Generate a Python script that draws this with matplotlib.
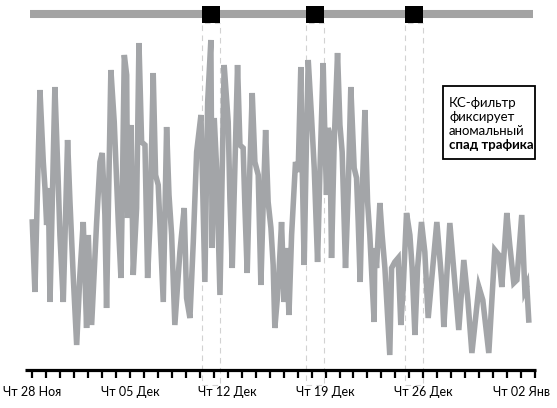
import matplotlib
matplotlib.use("Agg")
import matplotlib.pyplot as plt
from matplotlib.patches import Rectangle

plt.rcParams['font.family'] = ['Lato', 'DejaVu Sans']

# days since Thu 28 Nov 00:00
days = [
    0.00, 0.19, 0.55, 0.79, 0.91, 1.03, 1.15, 1.27, 1.62, 1.86,
    1.98, 2.22, 2.53, 2.70, 2.93, 3.18, 3.41, 3.65, 3.89, 4.01,
    4.25, 4.61, 4.85, 5.01, 5.20, 5.32, 5.63, 5.87, 6.16, 6.35,
    6.44, 6.59, 6.76, 6.83, 7.07, 7.23, 7.47, 7.64, 7.83, 8.07,
    8.26, 8.43, 8.66, 8.83, 9.02, 9.38, 9.62, 9.79, 9.98, 10.21,
    10.57, 10.88, 11.05, 11.29, 11.53, 11.77, 12.08, 12.24, 12.36, 12.56,
    12.79, 12.88, 13.03, 13.20, 13.44, 13.56, 13.74, 14.03, 14.15, 14.32,
    14.51, 14.70, 14.87, 15.10, 15.23, 15.39, 15.58, 15.75, 15.94, 16.18,
    16.37, 16.54, 16.71, 16.89, 17.09, 17.25, 17.37, 17.61, 17.85, 18.04,
    18.21, 18.38, 18.57, 18.85, 19.04, 19.23, 19.33, 19.47, 19.64, 19.76,
    20.00, 20.19, 20.43, 20.59, 20.83, 20.95, 21.07, 21.19, 21.31, 21.43,
    21.62, 21.86, 22.03, 22.19, 22.43, 22.62, 22.81, 23.05, 23.22, 23.34,
    23.48, 23.62, 23.82, 24.01, 24.17, 24.48, 24.53, 24.65, 24.89, 25.05,
    25.25, 25.60, 25.73, 25.96, 26.20, 26.39, 26.56, 26.80, 27.04, 27.20,
    27.40, 27.59, 27.87, 28.11, 28.35, 28.97, 29.33, 29.47, 29.90, 30.26,
    30.54, 30.90, 31.19, 31.48, 31.98, 32.26, 32.69, 33.12, 33.41, 33.62,
    33.98, 34.19, 34.48, 34.70, 35.05, 35.27, 35.41, 35.55]

traffic = [
    148, 78, 280, 208, 182, 145, 182, 68, 283, 188,
    135, 68, 230, 168, 95, 25, 95, 148, 42, 135,
    45, 148, 208, 217, 155, 62, 300, 248, 148, 92,
    168, 315, 295, 152, 245, 95, 162, 327, 228, 225,
    92, 148, 297, 195, 185, 68, 243, 175, 135, 45,
    118, 162, 72, 52, 128, 218, 255, 162, 88, 268,
    330, 122, 252, 202, 75, 168, 305, 248, 172, 102,
    202, 305, 225, 222, 162, 97, 202, 277, 208, 195,
    85, 168, 240, 168, 142, 105, 42, 82, 148, 68,
    122, 55, 135, 208, 198, 303, 202, 105, 235, 310,
    252, 202, 108, 195, 307, 235, 175, 242, 235, 112,
    228, 317, 245, 218, 102, 178, 283, 202, 192, 148,
    88, 175, 260, 168, 135, 48, 122, 102, 167, 135,
    102, 15, 102, 108, 112, 45, 82, 157, 135, 102,
    35, 102, 148, 118, 52, 148, 87, 43, 147, 87,
    40, 110, 70, 17, 83, 70, 17, 120, 115, 83,
    157, 125, 87, 90, 155, 80, 85, 50]

# anomaly windows (start, end) in days
anomaly_start = [12.15, 19.61, 26.70]
anomaly_end = [13.47, 20.90, 27.96]

tick_days = list(range(0, 37))
label_days = [0, 7, 14, 21, 28, 35]
tick_labels = ["Чт 28 Ноя", "Чт 05 Дек", "Чт 12 Дек", "Чт 19 Дек", "Чт 26 Дек", "Чт 02 Янв"]

note_lines = ["КС-фильтр", "фиксирует", "аномальный", "спад трафика"]

W, H = 557, 408
fig = plt.figure(figsize=(W / 100, H / 100), dpi=100)
ax = fig.add_axes([25 / W, (H - 370) / H, (536 - 25) / W, (370 - 5) / H])
ax.set_xlim(-0.52, 36.07)
ax.set_ylim(0, 365)

line_color = '#a3a5a8'
ax.plot(days, traffic, color=line_color, lw=4.0, solid_joinstyle='miter', zorder=2)

# top band with markers
ax.plot([-0.17, 35.85], [356, 356], color='#a3a3a3', lw=5.8, solid_capstyle='butt',
        zorder=3, clip_on=False)
for s, e in zip(anomaly_start, anomaly_end):
    ax.add_patch(Rectangle((s, 347), e - s, 17, facecolor='black', edgecolor='none',
                           zorder=4, clip_on=False))
    ax.add_patch(Rectangle((s, -15), e - s, 362, facecolor='none', edgecolor='#d2d2d2',
                           lw=0.8, linestyle=(0, (5, 4)), zorder=1, clip_on=False))

for sp in ['top', 'right', 'left']:
    ax.spines[sp].set_visible(False)
ax.spines['bottom'].set_linewidth(2.3)
ax.spines['bottom'].set_capstyle('butt')
ax.set_yticks([])
ax.set_xticks(tick_days, minor=True)
ax.set_xticks(label_days)
ax.set_xticklabels(tick_labels, fontsize=9)
ax.tick_params(axis='x', which='both', direction='out', length=5.5, width=1.6,
               color='black', pad=6)

# annotation box
fig.patches.append(Rectangle((443 / W, (H - 159) / H), 92 / W, 73 / H, fill=False,
                             edgecolor='black', lw=1.3, transform=fig.transFigure))
baselines = [107, 121, 135, 149]
for i, (txt, by) in enumerate(zip(note_lines, baselines)):
    fig.text(449 / W, (H - by) / H, txt, fontsize=9.5, va='baseline', ha='left',
             fontweight='bold' if i == 3 else 'normal')

fig.savefig('out.png', dpi=100)
